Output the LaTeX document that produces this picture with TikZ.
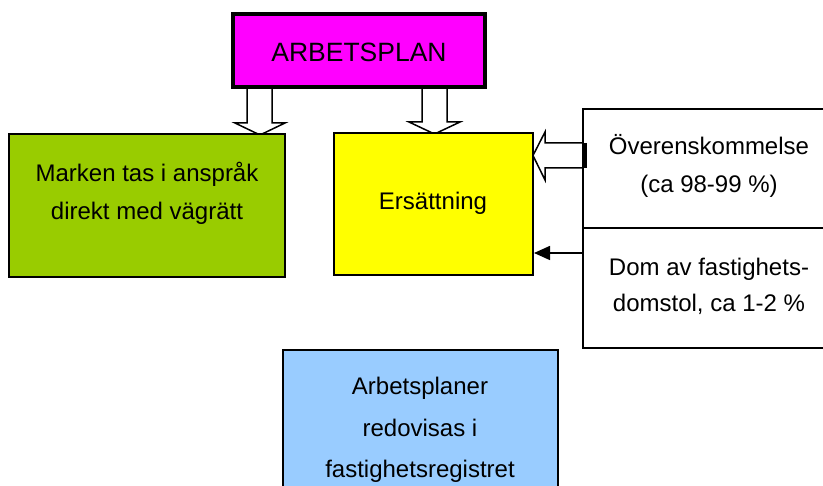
\documentclass[tikz,border=0pt]{standalone}
\usepackage{fontspec}
\setmainfont{Liberation Sans}
\usetikzlibrary{arrows.meta}
\definecolor{plancol}{HTML}{FF00FF}
\definecolor{markcol}{HTML}{99CC00}
\definecolor{ersattcol}{HTML}{FFFF00}
\definecolor{regcol}{HTML}{99CCFF}
\begin{document}
\begin{tikzpicture}[x=1pt,y=-1pt,
  box/.style={draw, inner sep=0pt, outer sep=0pt, anchor=north west},
  txt/.style={anchor=base, inner sep=0pt, font=\fontsize{24}{28}\selectfont},
  blockarrow/.style={draw, fill=white, line width=1.5pt, line join=miter}]
\useasboundingbox (0,0) rectangle (823,486);
\clip (0,0) rectangle (823,486);
% block arrows (drawn first, boxes cover their roots)
\filldraw[blockarrow] (247,80) -- (247,123) -- (235,123) -- (260,135) -- (285,123) -- (272,123) -- (272,80) -- cycle;
\filldraw[blockarrow] (422,80) -- (422,122) -- (409,122) -- (434.5,134) -- (460,122) -- (447,122) -- (447,80) -- cycle;
\filldraw[blockarrow] (590,143) -- (545,143) -- (545,132) -- (533,155.5) -- (545,180) -- (545,168) -- (590,168) -- cycle;
% boxes
\node[box, minimum width=252pt, minimum height=73pt, line width=3.3pt, fill=plancol] (plan) at (233,14) {};
\node[box, minimum width=276pt, minimum height=143pt, line width=2.3pt, fill=markcol] (mark) at (9,134) {};
\node[box, minimum width=199pt, minimum height=142pt, line width=2pt, fill=ersattcol] (ersatt) at (334,133) {};
\node[box, minimum width=252pt, minimum height=119pt, line width=1.5pt, fill=white] (overens) at (583,109) {};
\node[box, minimum width=252pt, minimum height=120pt, line width=1.5pt, fill=white] (dom) at (583,228) {};
\node[box, minimum width=275pt, minimum height=150pt, line width=2pt, fill=regcol] (reg) at (283,350) {};
\draw[line width=3.5pt] (585,143) -- (585,168);
% thin arrow
\coordinate (domfrom) at (583,253);
\coordinate (domto) at (534,253);
\draw[line width=1.5pt, -{Triangle[length=16pt,width=14pt]}] (domfrom) -- (domto);
% texts
\node[txt, font=\fontsize{26.5}{30}\selectfont] (plantxt) at (359,62) {ARBETSPLAN};
\node[txt] (mark1) at (147,182) {Marken tas i anspråk};
\node[txt] (mark2) at (147,220) {direkt med vägrätt};
\node[txt] (ersatttxt) at (433,210) {Ersättning};
\node[txt] (over1) at (709,155) {Överenskommelse};
\node[txt] (over2) at (709,193) {(ca 98-99 \%)};
\node[txt] (dom1) at (709,276) {Dom av fastighets-};
\node[txt] (dom2) at (709,312) {domstol, ca 1-2 \%};
\node[txt] (reg1) at (420,395) {Arbetsplaner};
\node[txt] (reg2) at (420,437) {redovisas i};
\node[txt] (reg3) at (420,478) {fastighetsregistret};
\end{tikzpicture}
\end{document}
